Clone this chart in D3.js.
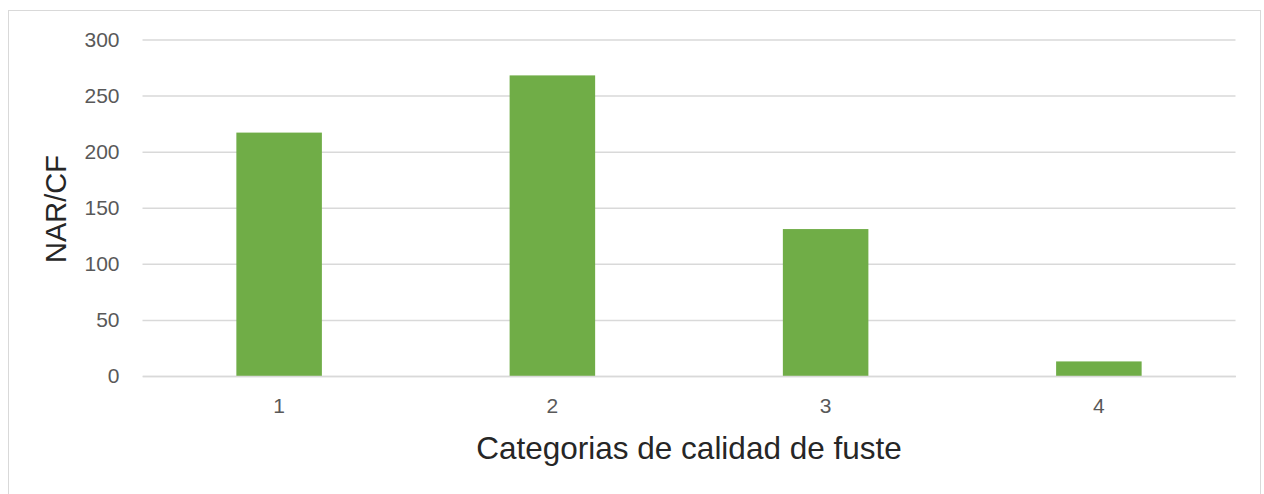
<!DOCTYPE html>
<html>
<head>
<meta charset="utf-8">
<script src="https://cdn.jsdelivr.net/npm/d3@7"></script>
<style>
  html, body { margin: 0; padding: 0; background: #fff; }
  svg { display: block; }
</style>
</head>
<body>
<svg id="chart" width="1264" height="494"></svg>
<script>
// Number of trees per stem quality category
const categories = ["1", "2", "3", "4"];
const values = [217, 268, 131, 13];
const yTicks = [0, 50, 100, 150, 200, 250, 300];
const xTitle = "Categorias de calidad de fuste";
const yTitle = "NAR/CF";

const svg = d3.select("#chart");
const plot = { left: 142.5, right: 1235.5, top: 39.5, bottom: 376 };

// Outer chart frame
svg.append("rect")
  .attr("x", 8.5).attr("y", 10.5)
  .attr("width", 1252).attr("height", 500)
  .attr("fill", "#fff")
  .attr("stroke", "#d9d9d9").attr("stroke-width", 1);

const x = d3.scaleBand()
  .domain(categories)
  .range([plot.left, plot.right])
  .paddingInner(0.687)
  .paddingOuter(0.3435);

const y = d3.scaleLinear()
  .domain([0, 300])
  .range([plot.bottom, plot.top]);

const tickFont = "'Liberation Sans', Arial, sans-serif";

// Horizontal gridlines with value labels
const yAxis = d3.axisLeft(y)
  .tickValues(yTicks)
  .tickSize(-(plot.right - plot.left))
  .tickPadding(23)
  .tickFormat(d3.format("d"));

const gy = svg.append("g")
  .attr("transform", `translate(${plot.left},0)`)
  .call(yAxis);
gy.select(".domain").remove();
gy.selectAll(".tick line").attr("stroke", "#d9d9d9").attr("stroke-width", 1.5);
gy.selectAll(".tick text")
  .attr("fill", "#595959")
  .style("font-family", tickFont)
  .style("font-size", "21px");

// Bars
svg.append("g").selectAll("rect")
  .data(values)
  .join("rect")
  .attr("x", (d, i) => x(categories[i]))
  .attr("y", d => y(d))
  .attr("width", x.bandwidth())
  .attr("height", d => y(0) - y(d))
  .attr("fill", "#70ad47");

// Category axis
const xAxis = d3.axisBottom(x).tickSize(0).tickPadding(22);
const gx = svg.append("g")
  .attr("transform", `translate(0,${plot.bottom})`)
  .call(xAxis);
gx.select(".domain").attr("stroke", "#d9d9d9").attr("stroke-width", 1.5);
gx.selectAll(".tick text")
  .attr("fill", "#595959")
  .style("font-family", tickFont)
  .style("font-size", "21px");

// Axis titles
svg.append("text")
  .attr("x", 689).attr("y", 459)
  .attr("text-anchor", "middle")
  .attr("fill", "#262626")
  .style("font-family", "'Liberation Sans', Arial, sans-serif")
  .style("font-size", "31.5px")
  .text(xTitle);

svg.append("text")
  .attr("transform", "translate(66,209) rotate(-90)")
  .attr("text-anchor", "middle")
  .attr("fill", "#262626")
  .style("font-family", "'Liberation Sans', Arial, sans-serif")
  .style("font-size", "29px")
  .text(yTitle);
</script>
</body>
</html>
